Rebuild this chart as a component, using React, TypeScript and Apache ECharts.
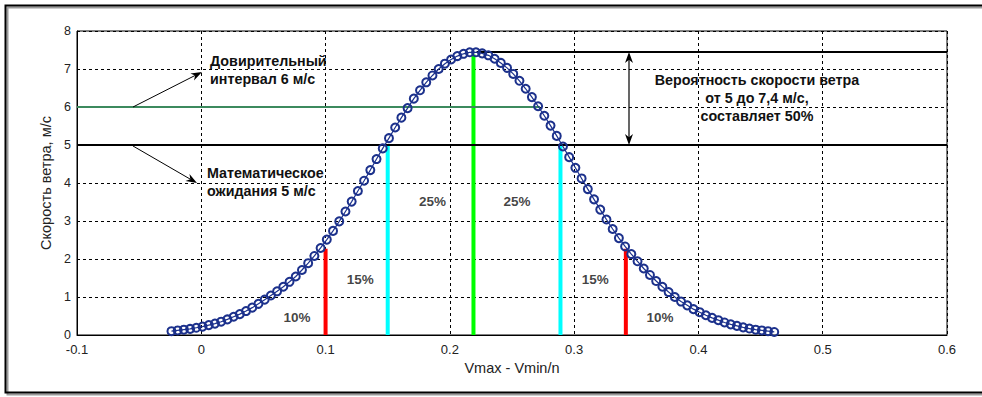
import React, { useEffect, useRef } from "react";
import * as echarts from "echarts";

const X_VALUES: number[] = [
  -0.024, -0.019, -0.014, -0.009, -0.004, 0.001, 0.006, 0.011, 0.016, 0.021,
  0.026, 0.031, 0.036, 0.041, 0.046, 0.051, 0.056, 0.061, 0.066, 0.071,
  0.076, 0.081, 0.086, 0.091, 0.096, 0.101, 0.106, 0.111, 0.116, 0.121,
  0.126, 0.131, 0.136, 0.141, 0.146, 0.151, 0.156, 0.161, 0.166, 0.171,
  0.176, 0.181, 0.186, 0.191, 0.196, 0.201, 0.206, 0.211, 0.216, 0.221,
  0.226, 0.231, 0.236, 0.241, 0.246, 0.251, 0.256, 0.261, 0.266, 0.271,
  0.276, 0.281, 0.286, 0.291, 0.296, 0.301, 0.306, 0.311, 0.316, 0.321,
  0.326, 0.331, 0.336, 0.341, 0.346, 0.351, 0.356, 0.361, 0.366, 0.371,
  0.376, 0.381, 0.386, 0.391, 0.396, 0.401, 0.406, 0.411, 0.416, 0.421,
  0.426, 0.431, 0.436, 0.441, 0.446, 0.451, 0.456, 0.461,
];

const Y_VALUES: number[] = [
  0.10, 0.12, 0.14, 0.16, 0.19, 0.22, 0.26, 0.30, 0.35, 0.41,
  0.48, 0.55, 0.63, 0.72, 0.82, 0.93, 1.04, 1.15, 1.27, 1.40,
  1.54, 1.71, 1.89, 2.08, 2.29, 2.51, 2.74, 2.99, 3.25, 3.51,
  3.79, 4.06, 4.34, 4.63, 4.91, 5.18, 5.46, 5.72, 5.97, 6.22,
  6.44, 6.65, 6.83, 7.00, 7.14, 7.25, 7.34, 7.40, 7.44, 7.44,
  7.41, 7.36, 7.27, 7.16, 7.03, 6.87, 6.69, 6.48, 6.26, 6.02,
  5.77, 5.51, 5.24, 4.96, 4.68, 4.40, 4.12, 3.84, 3.57, 3.30,
  3.04, 2.79, 2.55, 2.33, 2.13, 1.94, 1.75, 1.58, 1.42, 1.27,
  1.13, 1.00, 0.88, 0.78, 0.68, 0.60, 0.52, 0.45, 0.39, 0.33,
  0.28, 0.24, 0.20, 0.17, 0.14, 0.12, 0.10, 0.08,
];

// vertical bars: x position, height, colour
const BAR_X: number[] = [0.1, 0.15, 0.219, 0.289, 0.3416];
const BAR_TOP: number[] = [2.27, 5.0, 7.38, 5.0, 2.27];
const BAR_COLORS: string[] = ["#ff0000", "#00ffff", "#00ff00", "#00ffff", "#ff0000"];

// horizontal reference lines: [xStart, xEnd], level, colour
const HLINE_START: number[] = [-0.1, -0.1, 0.2215];
const HLINE_END: number[] = [0.6, 0.2726, 0.6];
const HLINE_LEVEL: number[] = [5, 6, 7.45];
const HLINE_COLORS: string[] = ["#000000", "#3c8a5e", "#000000"];

// percentage labels
const PCT_TEXT: string[] = ["10%", "15%", "25%", "25%", "15%", "10%"];
const PCT_X: number[] = [0.077, 0.128, 0.186, 0.254, 0.317, 0.369];
const PCT_Y: number[] = [0.47, 1.45, 3.51, 3.51, 1.45, 0.45];

const X_TICKS = { min: -0.1, max: 0.6, interval: 0.1 };
const Y_TICKS = { min: 0, max: 8, interval: 1 };

const FONT = "'Liberation Sans', Arial, sans-serif";

function arrowHead(tipX: number, tipY: number, fromX: number, fromY: number, len: number, half: number) {
  const dx = tipX - fromX;
  const dy = tipY - fromY;
  const l = Math.sqrt(dx * dx + dy * dy);
  const ux = dx / l;
  const uy = dy / l;
  const bx = tipX - ux * len;
  const by = tipY - uy * len;
  const px = -uy * half;
  const py = ux * half;
  return [
    [tipX, tipY],
    [bx + px, by + py],
    [tipX - ux * len * 0.7, tipY - uy * len * 0.7],
    [bx - px, by - py],
  ];
}

export default function App() {
  const ref = useRef<HTMLDivElement>(null);

  useEffect(() => {
    if (!ref.current) return;
    const chart = echarts.init(ref.current, undefined, { renderer: "svg" });

    const curve = X_VALUES.map((x, i) => [x, Y_VALUES[i]]);

    const barSeries = BAR_X.map((x, i) => ({
      type: "line",
      data: [
        [x, 0],
        [x, BAR_TOP[i]],
      ],
      symbol: "none",
      lineStyle: { color: BAR_COLORS[i], width: 4 },
      z: 3,
      silent: true,
    }));

    const hSeries = HLINE_LEVEL.map((lvl, i) => ({
      type: "line",
      data: [
        [HLINE_START[i], lvl],
        [HLINE_END[i], lvl],
      ],
      symbol: "none",
      lineStyle: { color: HLINE_COLORS[i], width: 2 },
      z: 3,
      silent: true,
    }));

    const labelSeries = {
      type: "scatter",
      symbolSize: 0,
      z: 6,
      data: PCT_TEXT.map((t, i) => ({ value: [PCT_X[i], PCT_Y[i]], name: t })),
      label: {
        show: true,
        position: "inside",
        formatter: (p: any) => p.name,
        fontFamily: FONT,
        fontWeight: "bold",
        fontSize: 13.5,
        color: "#111",
      },
      silent: true,
    };

    const a1 = arrowHead(202, 72, 133, 107, 11, 4);
    const a2 = arrowHead(197, 183, 133, 146, 11, 4);
    const a3 = arrowHead(629, 52, 629, 145, 11, 4);
    const a4 = arrowHead(629, 145, 629, 52, 11, 4);

    const annoFont = `bold 14.3px ${FONT}`;

    const option: any = {
      animation: false,
      backgroundColor: "#ffffff",
      grid: {
        left: 77,
        right: 35,
        top: 31,
        bottom: 62,
        show: true,
        borderColor: "#000",
        borderWidth: 1,
        backgroundColor: "#fff",
        containLabel: false,
      },
      xAxis: {
        type: "value",
        min: X_TICKS.min,
        max: X_TICKS.max,
        interval: X_TICKS.interval,
        name: "Vmax - Vmin/n",
        nameLocation: "middle",
        nameGap: 21,
        nameTextStyle: { fontFamily: FONT, fontSize: 14.5, color: "#222" },
        axisLine: { show: true, onZero: false, lineStyle: { color: "#000", width: 1 } },
        axisTick: { show: false },
        axisLabel: {
          fontFamily: FONT,
          fontSize: 13,
          color: "#222",
          margin: 7.5,
          formatter: (v: number) => String(Math.round(v * 10) / 10),
        },
        splitLine: { show: true, lineStyle: { color: "#000", type: [3, 3], width: 1 } },
      },
      yAxis: {
        type: "value",
        min: Y_TICKS.min,
        max: Y_TICKS.max,
        interval: Y_TICKS.interval,
        name: "Скорость ветра, м/с",
        nameLocation: "middle",
        nameGap: 22,
        nameTextStyle: { fontFamily: FONT, fontSize: 14.5, color: "#222" },
        axisLine: { show: true, onZero: false, lineStyle: { color: "#000", width: 1 } },
        axisTick: { show: false },
        axisLabel: { fontFamily: FONT, fontSize: 12.5, color: "#222", margin: 6 },
        splitLine: { show: true, lineStyle: { color: "#000", type: [3, 3], width: 1 } },
      },
      series: [
        ...barSeries,
        ...hSeries,
        {
          type: "line",
          data: curve,
          symbol: "circle",
          symbolSize: 8,
          showSymbol: true,
          showAllSymbol: true,
          lineStyle: { color: "#1c318c", width: 1.2 },
          itemStyle: { color: "rgba(255,255,255,0)", borderColor: "#1c318c", borderWidth: 2 },
          z: 5,
          silent: true,
        },
        labelSeries,
      ],
      graphic: [
        {
          type: "rect",
          z: 0,
          shape: { x: 7.5, y: 7.5, width: 990, height: 387 },
          style: { fill: "none", stroke: "#9a9a9a", lineWidth: 2 },
          silent: true,
        },
        {
          type: "rect",
          z: 1,
          shape: { x: 5.5, y: 5.5, width: 990, height: 387 },
          style: { fill: "none", stroke: "#000", lineWidth: 2 },
          silent: true,
        },
        { type: "line", z: 100, shape: { x1: 133, y1: 107, x2: 195, y2: 75.5 }, style: { stroke: "#000", lineWidth: 1 } },
        { type: "polygon", z: 100, shape: { points: a1 }, style: { fill: "#000" } },
        { type: "line", z: 100, shape: { x1: 133, y1: 146, x2: 190, y2: 179 }, style: { stroke: "#000", lineWidth: 1 } },
        { type: "polygon", z: 100, shape: { points: a2 }, style: { fill: "#000" } },
        { type: "line", z: 100, shape: { x1: 629, y1: 58, x2: 629, y2: 139 }, style: { stroke: "#000", lineWidth: 1.2 } },
        { type: "polygon", z: 100, shape: { points: a3 }, style: { fill: "#000" } },
        { type: "polygon", z: 100, shape: { points: a4 }, style: { fill: "#000" } },
        {
          type: "text",
          z: 100,
          x: 210,
          y: 52,
          style: {
            text: "Довирительный\nинтервал 6 м/с",
            font: annoFont,
            fill: "#111",
            lineHeight: 18,
            align: "left",
            verticalAlign: "top",
          },
        },
        {
          type: "text",
          z: 100,
          x: 207,
          y: 163.5,
          style: {
            text: "Математическое\nожидания 5 м/с",
            font: annoFont,
            fill: "#111",
            lineHeight: 18,
            align: "left",
            verticalAlign: "top",
          },
        },
        {
          type: "text",
          z: 100,
          x: 757,
          y: 71,
          style: {
            text: "Вероятность скорости ветра\nот 5 до 7,4 м/с,\nсоставляет 50%",
            font: annoFont,
            fill: "#111",
            lineHeight: 18,
            align: "center",
            verticalAlign: "top",
          },
        },
      ],
    };

    chart.setOption(option);
    return () => chart.dispose();
  }, []);

  return (
    <div
      ref={ref}
      style={{ position: "fixed", left: 0, top: 0, width: 982, height: 397, background: "#fff" }}
    />
  );
}
